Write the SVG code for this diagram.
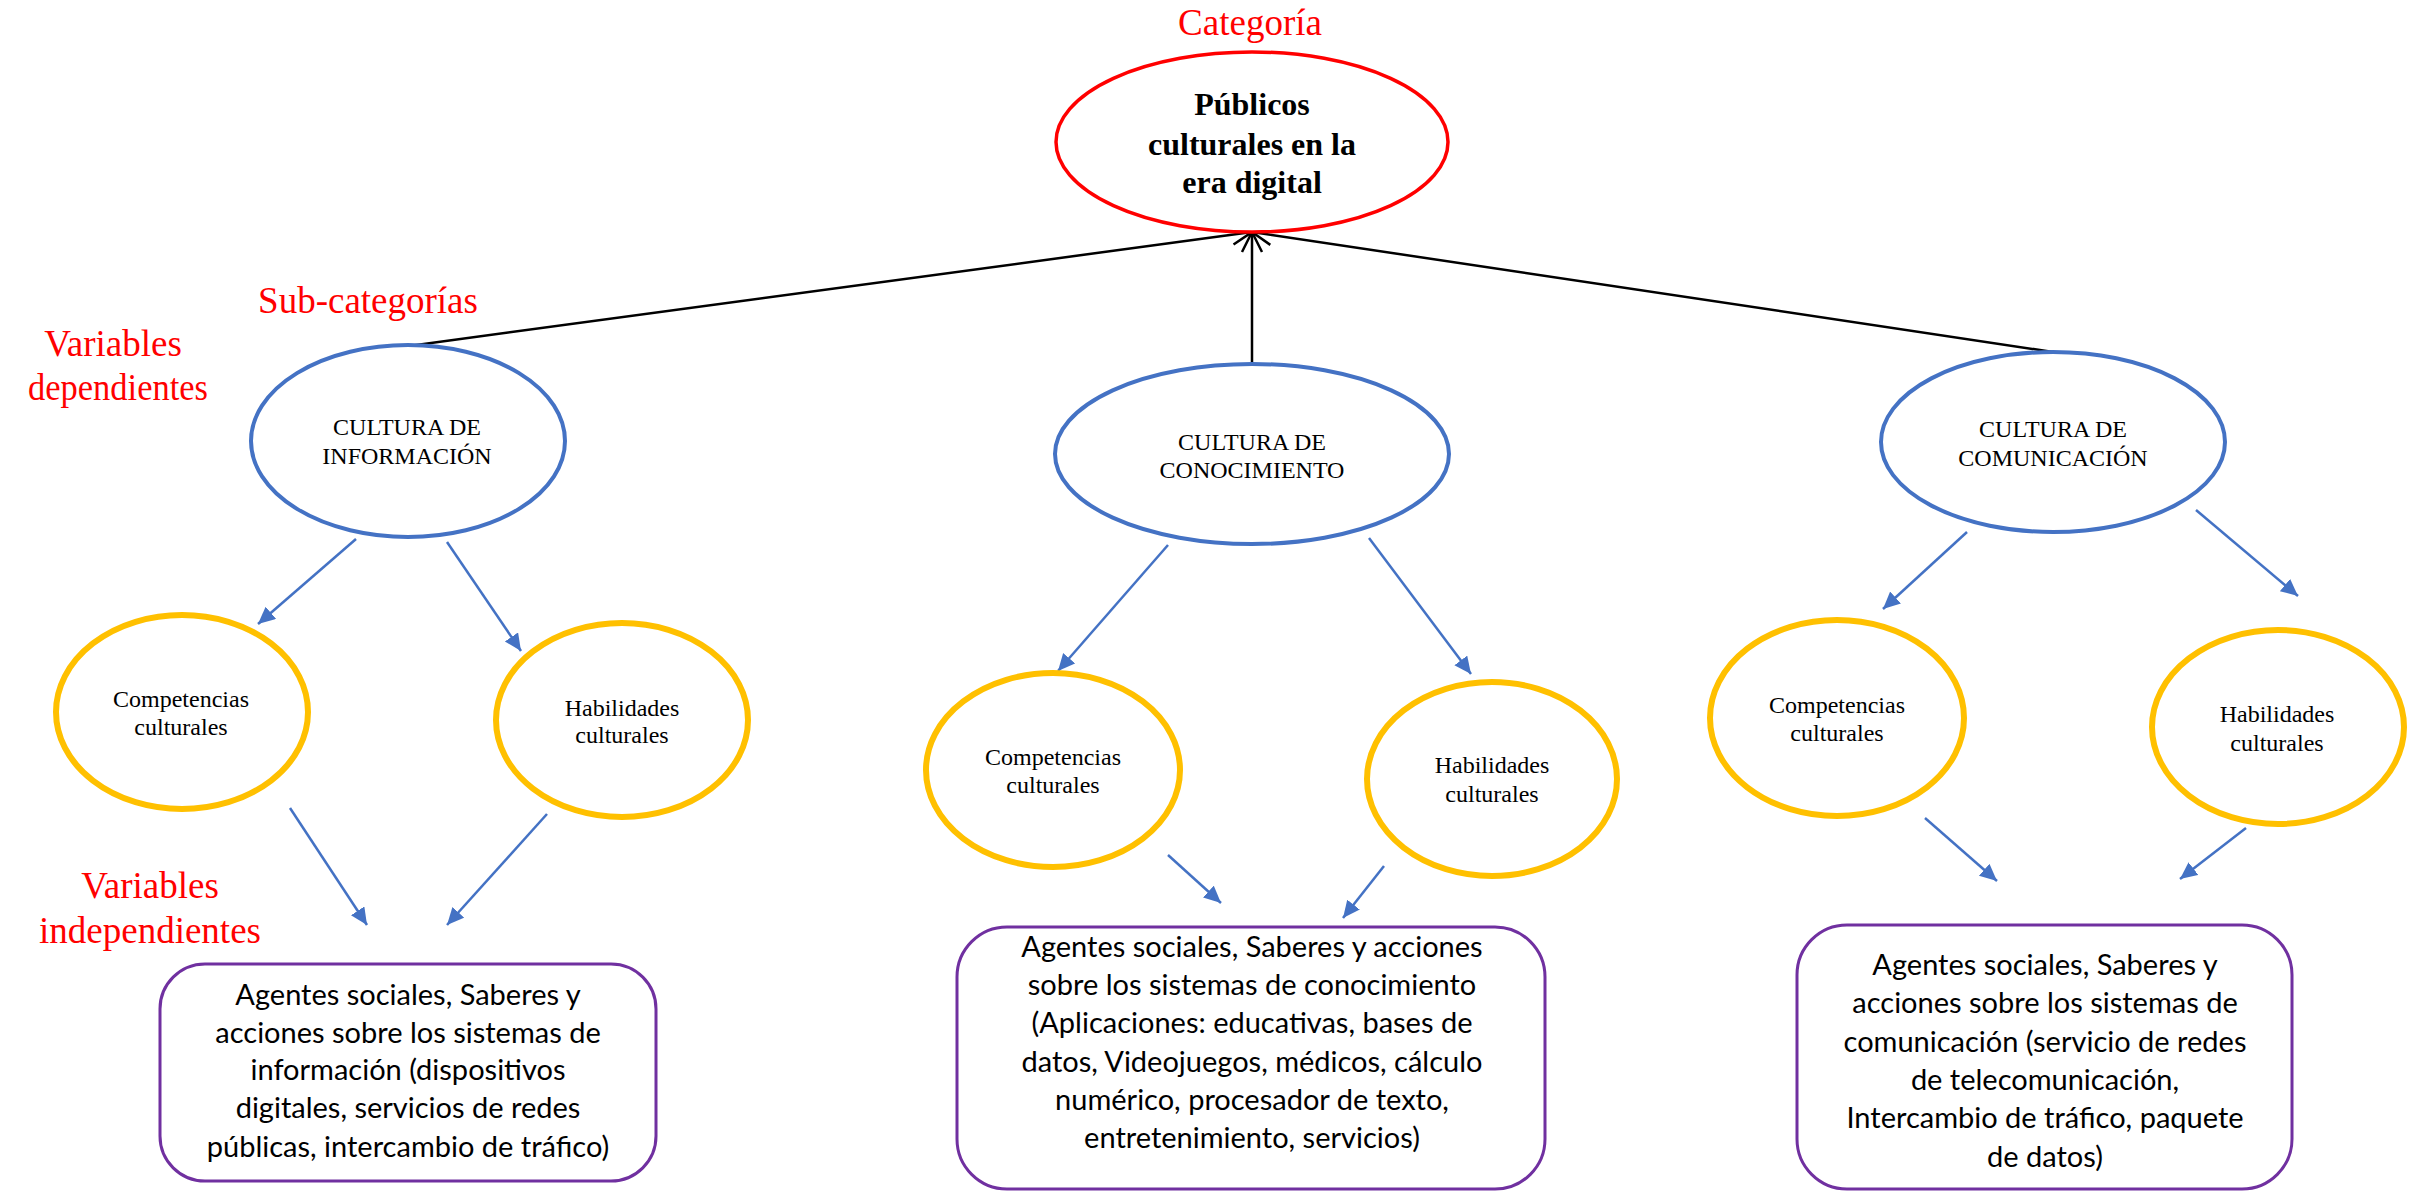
<svg xmlns="http://www.w3.org/2000/svg" width="2420" height="1191" viewBox="0 0 2420 1191">
<style>
.bg{fill:#fff}
.red{fill:#fff;stroke:#FF0000;stroke-width:3.5}
.blue{fill:#fff;stroke:#4472C4;stroke-width:4}
.yel{fill:#fff;stroke:#FFC000;stroke-width:6}
.box{fill:#fff;stroke:#7030A0;stroke-width:3}
.lbl{font-family:"Liberation Serif","Times New Roman",serif;font-size:37px;fill:#FF0000;text-anchor:middle}
.tb{font-family:"Liberation Serif","Times New Roman",serif;font-size:32px;font-weight:bold;fill:#000;text-anchor:middle}
.ts{font-family:"Liberation Serif","Times New Roman",serif;font-size:24px;fill:#000;text-anchor:middle}
.tc{font-family:Lato,"Open Sans",sans-serif;font-size:29px;fill:#000;text-anchor:middle}
.blk{stroke:#000;stroke-width:2.5;fill:none;marker-end:url(#open)}
.bl{stroke:#4472C4;stroke-width:2.5;fill:none;marker-end:url(#tri)}
</style>
<defs>
<marker id="open" markerUnits="userSpaceOnUse" markerWidth="28" markerHeight="28" refX="23" refY="12" orient="auto" overflow="visible">
<path d="M3,2 L23,12 L3,22" fill="none" stroke="#000" stroke-width="2.5"/>
</marker>
<marker id="tri" markerUnits="userSpaceOnUse" markerWidth="20" markerHeight="18" refX="17" refY="8" orient="auto">
<path d="M0,0 L17,8 L0,16 z" fill="#4472C4"/>
</marker>
</defs>
<rect class="bg" x="0" y="0" width="2420" height="1191"/>

<g id="labels">
<text class="lbl" x="1250" y="35" font-size="38">Categoría</text>
<text class="lbl" x="368" y="313">Sub-categorías</text>
<text class="lbl" x="113" y="356">Variables</text>
<text class="lbl" x="118" y="400" textLength="180" lengthAdjust="spacingAndGlyphs">dependientes</text>
<text class="lbl" x="150" y="898">Variables</text>
<text class="lbl" x="150" y="943">independientes</text>
</g>

<g id="connectors">
<line class="blk" x1="409" y1="346" x2="1252" y2="232"/>
<line class="blk" x1="1252" y1="364" x2="1252" y2="232"/>
<line class="blk" x1="2053" y1="352" x2="1252" y2="232"/>
<line class="bl" x1="356" y1="539" x2="258" y2="624"/>
<line class="bl" x1="447" y1="542" x2="521" y2="651"/>
<line class="bl" x1="290" y1="808" x2="367" y2="925"/>
<line class="bl" x1="547" y1="814" x2="447" y2="925"/>
<line class="bl" x1="1168" y1="545" x2="1058" y2="671"/>
<line class="bl" x1="1369" y1="538" x2="1471" y2="674"/>
<line class="bl" x1="1168" y1="855" x2="1221" y2="903"/>
<line class="bl" x1="1384" y1="866" x2="1343" y2="918"/>
<line class="bl" x1="1967" y1="532" x2="1883" y2="609"/>
<line class="bl" x1="2196" y1="510" x2="2298" y2="596"/>
<line class="bl" x1="1925" y1="818" x2="1997" y2="881"/>
<line class="bl" x1="2246" y1="828" x2="2180" y2="879"/>
</g>

<g id="publicos">
<ellipse class="red" cx="1252" cy="142" rx="196" ry="90"/>
<text class="tb" x="1252" y="115">Públicos</text>
<text class="tb" x="1252" y="155">culturales en la</text>
<text class="tb" x="1252" y="193">era digital</text>
</g>

<g id="cultura-informacion">
<ellipse class="blue" cx="408" cy="441" rx="157" ry="96"/>
<text class="ts" x="407" y="435">CULTURA DE</text>
<text class="ts" x="407" y="464">INFORMACIÓN</text>
</g>
<g id="cultura-conocimiento">
<ellipse class="blue" cx="1252" cy="454" rx="197" ry="90"/>
<text class="ts" x="1252" y="450">CULTURA DE</text>
<text class="ts" x="1252" y="478">CONOCIMIENTO</text>
</g>
<g id="cultura-comunicacion">
<ellipse class="blue" cx="2053" cy="442" rx="172" ry="90"/>
<text class="ts" x="2053" y="437">CULTURA DE</text>
<text class="ts" x="2053" y="466">COMUNICACIÓN</text>
</g>

<g id="competencias-1">
<ellipse class="yel" cx="182" cy="712" rx="126" ry="97"/>
<text class="ts" x="181" y="707">Competencias</text>
<text class="ts" x="181" y="735">culturales</text>
</g>
<g id="habilidades-1">
<ellipse class="yel" cx="622" cy="720" rx="126" ry="97"/>
<text class="ts" x="622" y="716">Habilidades</text>
<text class="ts" x="622" y="743">culturales</text>
</g>
<g id="competencias-2">
<ellipse class="yel" cx="1053" cy="770" rx="127" ry="97"/>
<text class="ts" x="1053" y="765">Competencias</text>
<text class="ts" x="1053" y="793">culturales</text>
</g>
<g id="habilidades-2">
<ellipse class="yel" cx="1492" cy="779" rx="125" ry="97"/>
<text class="ts" x="1492" y="773">Habilidades</text>
<text class="ts" x="1492" y="802">culturales</text>
</g>
<g id="competencias-3">
<ellipse class="yel" cx="1837" cy="718" rx="127" ry="98"/>
<text class="ts" x="1837" y="713">Competencias</text>
<text class="ts" x="1837" y="741">culturales</text>
</g>
<g id="habilidades-3">
<ellipse class="yel" cx="2278" cy="727" rx="126" ry="97"/>
<text class="ts" x="2277" y="722">Habilidades</text>
<text class="ts" x="2277" y="751">culturales</text>
</g>

<g id="box-informacion">
<rect class="box" x="160" y="964" width="496" height="217" rx="45"/>
<text class="tc" x="408" y="1005">Agentes sociales, Saberes y</text>
<text class="tc" x="408" y="1043">acciones sobre los sistemas de</text>
<text class="tc" x="408" y="1080">información (dispositivos</text>
<text class="tc" x="408" y="1118">digitales, servicios de redes</text>
<text class="tc" x="408" y="1157">públicas, intercambio de tráfico)</text>
</g>
<g id="box-conocimiento">
<rect class="box" x="957" y="927" width="588" height="262" rx="50"/>
<text class="tc" x="1252" y="957">Agentes sociales, Saberes y acciones</text>
<text class="tc" x="1252" y="995">sobre los sistemas de conocimiento</text>
<text class="tc" x="1252" y="1033">(Aplicaciones: educativas, bases de</text>
<text class="tc" x="1252" y="1072">datos, Videojuegos, médicos, cálculo</text>
<text class="tc" x="1252" y="1110">numérico, procesador de texto,</text>
<text class="tc" x="1252" y="1148">entretenimiento, servicios)</text>
</g>
<g id="box-comunicacion">
<rect class="box" x="1797" y="925" width="495" height="264" rx="50"/>
<text class="tc" x="2045" y="975">Agentes sociales, Saberes y</text>
<text class="tc" x="2045" y="1013">acciones sobre los sistemas de</text>
<text class="tc" x="2045" y="1052">comunicación (servicio de redes</text>
<text class="tc" x="2045" y="1090">de telecomunicación,</text>
<text class="tc" x="2045" y="1128">Intercambio de tráfico, paquete</text>
<text class="tc" x="2045" y="1167">de datos)</text>
</g>
</svg>
